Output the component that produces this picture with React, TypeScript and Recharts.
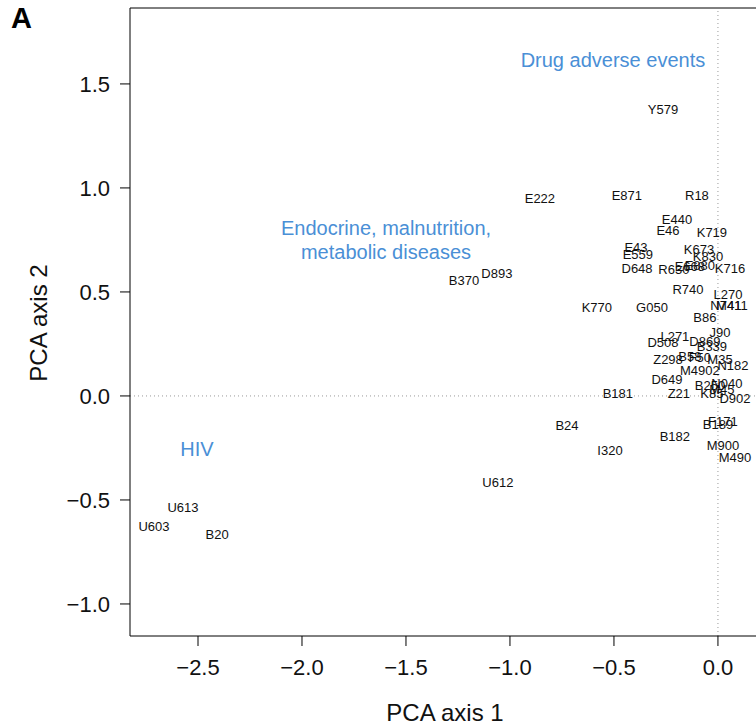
import { ScatterChart, Scatter, XAxis, YAxis, ReferenceLine, Label } from "recharts";

// ICD codes and their PCA scores
const codes = [
  "Y579", "E222", "E871", "R18", "E440", "E46", "K719", "E43", "E559", "D648",
  "K673", "K830", "R630", "E668", "E880", "K716", "B370", "D893", "R740", "L270",
  "N741", "M411", "K770", "G050", "B86", "J90", "L271", "D508", "D869", "B339",
  "Z298", "B58", "F50", "M35", "N182", "M4902", "D649", "B250", "N040", "M45",
  "D902", "K85", "B181", "Z21", "F171", "B189", "B24", "B182", "I320", "M900",
  "M490", "U612", "U613", "U603", "B20",
];
const pc1 = [
  -0.264, -0.856, -0.438, -0.101, -0.197, -0.24, -0.029, -0.394, -0.385, -0.389,
  -0.091, -0.048, -0.212, -0.135, -0.087, 0.058, -1.221, -1.063, -0.144, 0.048,
  0.038, 0.067, -0.582, -0.317, -0.063, 0.01, -0.207, -0.264, -0.063, -0.029,
  -0.24, -0.135, -0.087, 0.01, 0.072, -0.087, -0.245, -0.038, 0.043, 0.019,
  0.082, -0.029, -0.481, -0.188, 0.024, 0.0, -0.726, -0.207, -0.519, 0.024,
  0.082, -1.058, -2.572, -2.712, -2.408,
];
const pc2 = [
  1.375, 0.947, 0.962, 0.966, 0.846, 0.793, 0.788, 0.712, 0.678, 0.615,
  0.702, 0.668, 0.606, 0.62, 0.625, 0.615, 0.553, 0.587, 0.514, 0.486,
  0.437, 0.433, 0.423, 0.423, 0.375, 0.303, 0.288, 0.255, 0.264, 0.236,
  0.173, 0.188, 0.183, 0.173, 0.144, 0.12, 0.077, 0.048, 0.058, 0.029,
  -0.01, 0.014, 0.01, 0.01, -0.125, -0.139, -0.144, -0.197, -0.264, -0.236,
  -0.298, -0.418, -0.534, -0.63, -0.668,
];

// blue group annotations
const groupText = ["Drug adverse events", "Endocrine, malnutrition,", "metabolic diseases", "HIV"];
const groupX = [-0.505, -1.596, -1.596, -2.505];
const groupY = [1.615, 0.808, 0.692, -0.255];

const xTicks = [-2.5, -2.0, -1.5, -1.0, -0.5, 0.0];
const yTicks = [-1.0, -0.5, 0.0, 0.5, 1.0, 1.5];

const points = codes.map((name, i) => ({ name, x: pc1[i], y: pc2[i] }));
const groups = groupText.map((name, i) => ({ name, x: groupX[i], y: groupY[i] }));

const FONT = "'Liberation Sans', Arial, Helvetica, sans-serif";
const fmt = (v: number) => (v < 0 ? "\u2212" + Math.abs(v).toFixed(1) : v.toFixed(1));

const CodeLabel = (p: any) => (
  <text x={p.cx} y={p.cy} textAnchor="middle" dominantBaseline="central" fontSize={13} fill="#111" fontFamily={FONT}>
    {p.payload.name}
  </text>
);

const GroupLabel = (p: any) => (
  <text x={p.cx} y={p.cy} textAnchor="middle" dominantBaseline="central" fontSize={20} fill="#4a8fd6" fontFamily={FONT}>
    {p.payload.name}
  </text>
);

export default function App() {
  return (
    <div style={{ position: "absolute", left: 0, top: 0, width: 756, height: 727, overflow: "hidden", fontFamily: FONT }}>
      <div style={{ position: "absolute", left: 11, top: 2, fontSize: 29, fontWeight: "bold" }}>A</div>
      <ScatterChart width={756} height={727} margin={{ top: 8, right: 0, bottom: 0, left: 0 }}>
        <XAxis
          type="number"
          dataKey="x"
          domain={[-2.827, 0.183]}
          allowDataOverflow
          ticks={xTicks}
          tickFormatter={fmt}
          height={91}
          tickSize={10}
          tickMargin={13}
          stroke="#000"
          tick={{ fill: "#111", fontSize: 22, fontFamily: FONT }}
        >
          <Label
            content={() => (
              <text x={445} y={721} textAnchor="middle" fontSize={24} fill="#111" fontFamily={FONT}>
                PCA axis 1
              </text>
            )}
          />
        </XAxis>
        <YAxis
          type="number"
          dataKey="y"
          domain={[-1.154, 1.865]}
          allowDataOverflow
          ticks={yTicks}
          tickFormatter={fmt}
          width={130}
          tickSize={10}
          tickMargin={10}
          stroke="#000"
          tick={{ fill: "#111", fontSize: 22, fontFamily: FONT }}
        >
          <Label
            content={() => (
              <text x={47} y={323} textAnchor="middle" fontSize={24} fill="#111" fontFamily={FONT} transform="rotate(-90 47 323)">
                PCA axis 2
              </text>
            )}
          />
        </YAxis>
        <ReferenceLine y={1.865} stroke="#000" />
        <ReferenceLine x={0} stroke="#999" strokeDasharray="1 3" />
        <ReferenceLine y={0} stroke="#999" strokeDasharray="1 3" />
        <Scatter data={points} shape={CodeLabel} isAnimationActive={false} />
        <Scatter data={groups} shape={GroupLabel} isAnimationActive={false} />
      </ScatterChart>
    </div>
  );
}
